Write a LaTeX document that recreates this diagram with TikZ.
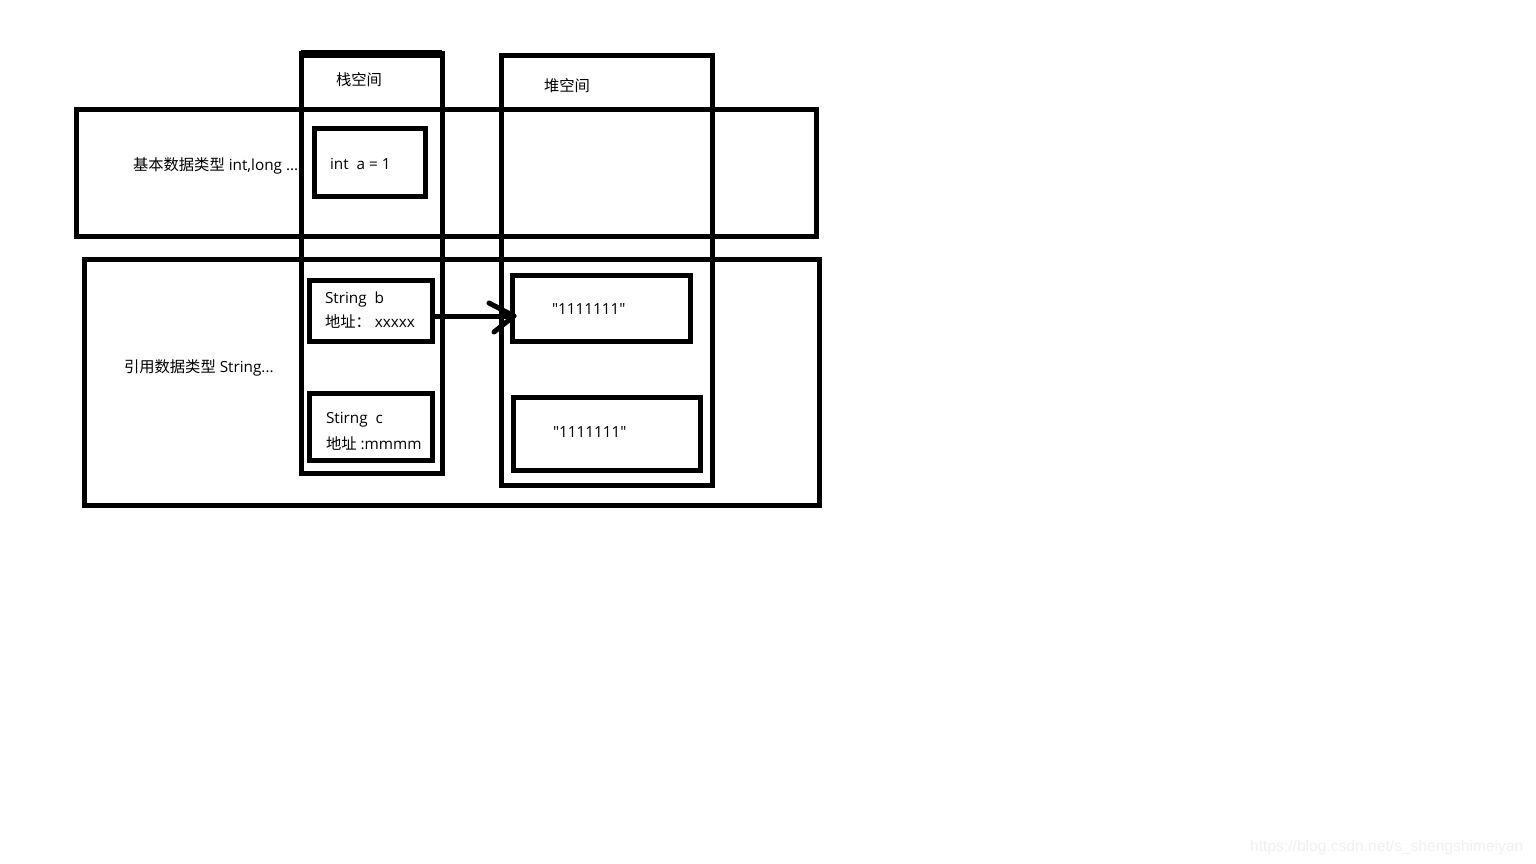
\documentclass[tikz,border=0pt]{standalone}
\usepackage{fontspec}
\setmainfont{Open Sans}
\newfontfamily\cjk{Noto Sans CJK SC}
\newfontfamily\wmfont{Liberation Sans}
\begin{document}
\begin{tikzpicture}[x=1pt,y=-1pt,
  box/.style={draw=black, line width=5pt, rectangle, inner sep=0pt, outer sep=0pt},
  txt/.style={anchor=base west, inner sep=0pt, outer sep=0pt, font=\fontsize{15.3}{18}\selectfont},
  ctxt/.style={anchor=base, inner sep=0pt, outer sep=0pt, font=\fontsize{15.3}{18}\selectfont},
  conn/.style={draw=black, line width=5pt},
  barb/.style={draw=black, line width=5pt, line cap=round}]
\fill[white] (0,0) rectangle (1536,864);
\useasboundingbox (0,0) rectangle (1536,864);
% rows
\node[box, minimum width=739.5pt, minimum height=126.5pt] (basic) at (446.25,172.75) {};
\node[box, minimum width=735.5pt, minimum height=246pt] (ref) at (451.75,382.5) {};
% columns
\node[box, minimum width=141pt, minimum height=419pt] (stack) at (371.5,263.5) {};
\draw[black, line width=8pt] (stack.north west) -- (stack.north east);
\node[box, minimum width=211pt, minimum height=429.5pt] (heap) at (607,270.75) {};
% inner boxes
\node[box, minimum width=111.5pt, minimum height=68pt] (inta) at (369.75,162.5) {};
\node[box, minimum width=122.5pt, minimum height=61pt] (strb) at (370.75,311) {};
\node[box, minimum width=123pt, minimum height=67pt] (strc) at (371,427) {};
\node[box, minimum width=177.5pt, minimum height=65.5pt] (h1) at (601.25,308.25) {};
\node[box, minimum width=186.5pt, minimum height=72.5pt] (h2) at (606.75,433.75) {};
% labels
\node[ctxt] (stacklbl) at (359,86) {\cjk 栈空间};
\node[ctxt] (heaplbl) at (567,92) {\cjk 堆空间};
\node[txt] (basiclbl) at (133,170) {{\cjk 基本数据类型} int,long ...};
\node[txt] (reflbl) at (124,372) {{\cjk 引用数据类型} String...};
\node[txt] (intlbl) at (330,169) {int\ \ a = 1};
\node[txt] (strb1) at (325,303) {String\ \ b};
\node[txt] (strb2) at (325,327) {{\cjk 地址：} xxxxx};
\node[txt] (strc1) at (326,423) {Stirng\ \ c};
\node[txt] (strc2) at (326,449) {{\cjk 地址} :mmmm};
\node[txt] (h1lbl) at (552,314) {\textquotedbl 1111111\textquotedbl};
\node[txt] (h2lbl) at (553,437) {\textquotedbl 1111111\textquotedbl};
\node[anchor=base west, inner sep=0pt, text=gray!12, font=\wmfont\fontsize{15.6}{18}\selectfont] (wm) at (1250,851) {https://blog.csdn.net/s\_shengshimeiyan};
% arrow
\coordinate (tip) at (514,316);
\draw[conn] (strb.east |- tip) -- (tip);
\draw[barb] (tip) -- ++(-25,-13);
\draw[barb] (tip) -- ++(-20,16);
\end{tikzpicture}
\end{document}
